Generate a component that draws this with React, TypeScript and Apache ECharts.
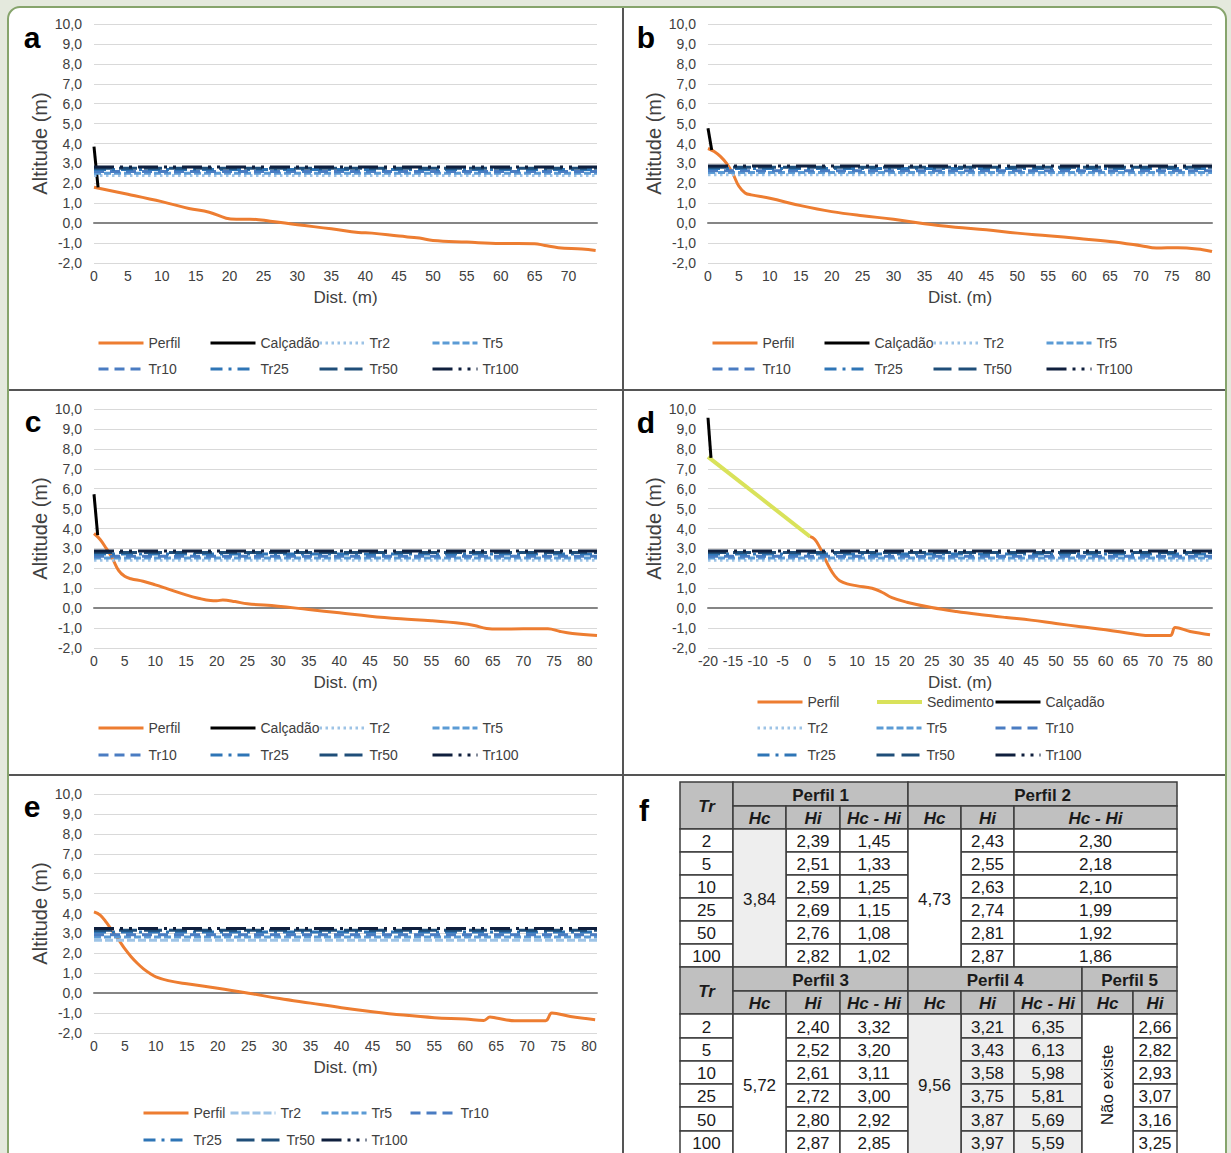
import React, { useEffect, useRef } from "react";
import * as echarts from "echarts";

const FONT = "'Liberation Sans', Arial, Helvetica, sans-serif";
const TEXT_COLOR = "#404040";

// ---------------- data ----------------
const TR_NAMES = ["Tr2", "Tr5", "Tr10", "Tr25", "Tr50", "Tr100"];
const TR_PERIODS = [2, 5, 10, 25, 50, 100];
const Y_MIN = -2;
const Y_MAX = 10;

// table values (Hc, Hi, Hc - Hi)
const HC_P1 = 3.84;
const HI_P1 = [2.39, 2.51, 2.59, 2.69, 2.76, 2.82];
const HCHI_P1 = [1.45, 1.33, 1.25, 1.15, 1.08, 1.02];
const HC_P2 = 4.73;
const HI_P2 = [2.43, 2.55, 2.63, 2.74, 2.81, 2.87];
const HCHI_P2 = [2.3, 2.18, 2.1, 1.99, 1.92, 1.86];
const HC_P3 = 5.72;
const HI_P3 = [2.4, 2.52, 2.61, 2.72, 2.8, 2.87];
const HCHI_P3 = [3.32, 3.2, 3.11, 3.0, 2.92, 2.85];
const HC_P4 = 9.56;
const HI_P4 = [3.21, 3.43, 3.58, 3.75, 3.87, 3.97];
const HCHI_P4 = [6.35, 6.13, 5.98, 5.81, 5.69, 5.59];
const HI_P5 = [2.66, 2.82, 2.93, 3.07, 3.16, 3.25];
// Tr levels as drawn in panel d
const TR_LEVELS_D = [2.4, 2.52, 2.61, 2.72, 2.8, 2.87];

// profiles [dist, altitude]
const PERFIL_A = [[0, 1.8], [5, 1.45], [10, 1.08], [14, 0.74], [17, 0.55], [19.5, 0.25], [21, 0.2], [23, 0.2], [26, 0.1], [30, -0.08], [35, -0.28], [39, -0.47], [41, -0.5], [45, -0.65], [48, -0.75], [50, -0.87], [55, -0.95], [60, -1.02], [65, -1.03], [66.5, -1.12], [68.5, -1.23], [72, -1.3], [74, -1.37]];
const PERFIL_B = [[0, 3.75], [1, 3.6], [2, 3.35], [3, 3.0], [4, 2.5], [5, 1.85], [6, 1.52], [7, 1.42], [10, 1.25], [15, 0.88], [20, 0.58], [25, 0.37], [30, 0.2], [35, -0.03], [40, -0.2], [45, -0.33], [50, -0.5], [55, -0.63], [60, -0.77], [65, -0.92], [70, -1.13], [72.5, -1.25], [76, -1.23], [80, -1.33], [81.5, -1.42]];
const PERFIL_C = [[0, 3.75], [1, 3.45], [2, 3.0], [3, 2.5], [4, 1.9], [5, 1.6], [6, 1.48], [8, 1.35], [10, 1.17], [12, 0.97], [15, 0.67], [17, 0.5], [19, 0.38], [20, 0.37], [21, 0.41], [23, 0.33], [25, 0.22], [30, 0.1], [35, -0.07], [40, -0.23], [45, -0.4], [50, -0.53], [55, -0.63], [60, -0.77], [62, -0.87], [64, -1.02], [66, -1.05], [70, -1.03], [74, -1.03], [76, -1.17], [78, -1.27], [82, -1.37]];
const PERFIL_D = [[0.5, 3.6], [1.5, 3.45], [2.5, 3.05], [3.5, 2.5], [4.5, 2.0], [5.5, 1.62], [6.5, 1.38], [8, 1.22], [10, 1.12], [13, 1.0], [15, 0.8], [17, 0.53], [20, 0.3], [25, 0.03], [30, -0.17], [35, -0.33], [40, -0.47], [45, -0.6], [50, -0.77], [55, -0.93], [60, -1.08], [65, -1.27], [68, -1.37], [73, -1.37], [74, -0.97], [77, -1.17], [81, -1.33]];
const SEDIMENTO_D = [[-20, 7.6], [0.5, 3.6]];
const PERFIL_E = [[0, 4.08], [1, 3.92], [2, 3.55], [3, 3.1], [4, 2.67], [5, 2.22], [6, 1.83], [7, 1.5], [8, 1.22], [9, 1.0], [10, 0.82], [12, 0.63], [15, 0.47], [20, 0.25], [25, 0], [30, -0.27], [35, -0.5], [40, -0.73], [45, -0.93], [50, -1.1], [55, -1.23], [60, -1.3], [63, -1.37], [64, -1.2], [65, -1.25], [68, -1.38], [73, -1.38], [74, -1.0], [77, -1.17], [81, -1.33]];
const CALCADAO_A = [[0, 3.84], [0.6, 1.8]];
const CALCADAO_B = [[0, 4.76], [0.6, 3.67]];
const CALCADAO_C = [[0, 5.72], [0.6, 3.67]];
const CALCADAO_D = [[-20, 9.56], [-19.4, 7.55]];

// ---------------- styles ----------------
const STYLE: Record<string, any> = {
  Perfil: { color: "#ed7d31", width: 3, type: "solid" },
  Sedimento: { color: "#d9e25a", width: 4, type: "solid" },
  "Calçadão": { color: "#000000", width: 3, type: "solid" },
  Tr2: { color: "#9dc3e6", width: 3, type: [2.5, 3.5] },
  Tr5: { color: "#5b9bd5", width: 3, type: [7, 3] },
  Tr10: { color: "#4a7cc2", width: 3, type: [10, 6] },
  Tr25: { color: "#2e75b6", width: 3, type: [12, 6, 3, 6] },
  Tr50: { color: "#1f4e79", width: 3, type: [18, 7] },
  Tr100: { color: "#0f1f3d", width: 3, type: [20, 6, 3, 6, 3, 6] },
};
const STYLE_TR2_DASHED = { color: "#9dc3e6", width: 3, type: [8, 3] };

// legend layouts: dx relative to plot left, row index
const LEGEND_STD = [
  { name: "Perfil", dx: 3, row: 0 }, { name: "Calçadão", dx: 115, row: 0 }, { name: "Tr2", dx: 224, row: 0 }, { name: "Tr5", dx: 337, row: 0 },
  { name: "Tr10", dx: 3, row: 1 }, { name: "Tr25", dx: 115, row: 1 }, { name: "Tr50", dx: 224, row: 1 }, { name: "Tr100", dx: 337, row: 1 },
];
const LEGEND_D = [
  { name: "Perfil", dx: 48, row: 0 }, { name: "Sedimento", dx: 167, row: 0 }, { name: "Calçadão", dx: 286, row: 0 },
  { name: "Tr2", dx: 48, row: 1 }, { name: "Tr5", dx: 167, row: 1 }, { name: "Tr10", dx: 286, row: 1 },
  { name: "Tr25", dx: 48, row: 2 }, { name: "Tr50", dx: 167, row: 2 }, { name: "Tr100", dx: 286, row: 2 },
];
const LEGEND_E = [
  { name: "Perfil", dx: 48, row: 0 }, { name: "Tr2", dx: 135, row: 0 }, { name: "Tr5", dx: 226, row: 0 }, { name: "Tr10", dx: 315, row: 0 },
  { name: "Tr25", dx: 48, row: 1 }, { name: "Tr50", dx: 141, row: 1 }, { name: "Tr100", dx: 226, row: 1 },
];

const PANELS = [
  { letter: "a", lx: 32, ly: 37, left: 94, top: 24, width: 503, xMin: 0, xMax: 74.2, perfil: PERFIL_A, sedimento: null, calcadao: CALCADAO_A, tr: HI_P1, tr2Dashed: false, legend: LEGEND_STD, rows: [343, 369] },
  { letter: "b", lx: 646, ly: 37, left: 708, top: 24, width: 504, xMin: 0, xMax: 81.5, perfil: PERFIL_B, sedimento: null, calcadao: CALCADAO_B, tr: HI_P2, tr2Dashed: false, legend: LEGEND_STD, rows: [343, 369] },
  { letter: "c", lx: 33, ly: 421, left: 94, top: 409, width: 503, xMin: 0, xMax: 82, perfil: PERFIL_C, sedimento: null, calcadao: CALCADAO_C, tr: HI_P3, tr2Dashed: false, legend: LEGEND_STD, rows: [728, 755] },
  { letter: "d", lx: 646, ly: 422, left: 708, top: 409, width: 504, xMin: -20, xMax: 81.4, perfil: PERFIL_D, sedimento: SEDIMENTO_D, calcadao: CALCADAO_D, tr: TR_LEVELS_D, tr2Dashed: false, legend: LEGEND_D, rows: [702, 728, 755] },
  { letter: "e", lx: 32, ly: 806, left: 94, top: 794, width: 503, xMin: 0, xMax: 81.3, perfil: PERFIL_E, sedimento: null, calcadao: null, tr: HI_P5, tr2Dashed: true, legend: LEGEND_E, rows: [1113, 1140] },
];
const PLOT_HEIGHT = 239;

// table geometry
const TABLE_COLS = [680, 733, 786, 840, 908, 961, 1014, 1082, 1133, 1177];
const TABLE_ROWS = [782, 806, 829, 852, 875, 898, 921, 944, 967, 991, 1014, 1038, 1061, 1084, 1107, 1131, 1154];

const fmt = (v: number) => v.toFixed(2).replace(".", ",");

function lineStyleOf(s: any) {
  return { color: s.color, width: s.width, type: s.type, cap: "butt" };
}

function buildOption() {
  const grid: any[] = [];
  const xAxis: any[] = [];
  const yAxis: any[] = [];
  const series: any[] = [];
  const legend: any[] = [];
  const graphic: any[] = [];

  // panel background & frame
  graphic.push({ type: "rect", z: -100, shape: { x: 8, y: 7, width: 1218, height: 1180, r: 12 }, style: { fill: "#ffffff", stroke: "#86a46c", lineWidth: 2 } });
  graphic.push({ type: "line", z: 100, shape: { x1: 623, y1: 8, x2: 623, y2: 1153 }, style: { stroke: "#555555", lineWidth: 2 } });
  graphic.push({ type: "line", z: 100, shape: { x1: 9, y1: 390, x2: 1225, y2: 390 }, style: { stroke: "#555555", lineWidth: 2 } });
  graphic.push({ type: "line", z: 100, shape: { x1: 9, y1: 775, x2: 1225, y2: 775 }, style: { stroke: "#555555", lineWidth: 2 } });

  PANELS.forEach((p, i) => {
    grid.push({ left: p.left, top: p.top, width: p.width, height: PLOT_HEIGHT, containLabel: false });
    xAxis.push({
      type: "value", gridIndex: i, min: p.xMin, max: p.xMax, interval: 5,
      name: "Dist. (m)", nameLocation: "middle", nameGap: 26,
      nameTextStyle: { fontFamily: FONT, fontSize: 17, color: TEXT_COLOR },
      axisLine: { show: false, onZero: false }, axisTick: { show: false }, splitLine: { show: false },
      axisLabel: {
        fontFamily: FONT, fontSize: 14, color: TEXT_COLOR, margin: 6, showMaxLabel: true,
        formatter: (v: number) => (Math.abs(v % 5) < 1e-6 ? String(v) : ""),
      },
    });
    // zero line (Excel category axis crossing at 0)
    xAxis.push({
      type: "value", gridIndex: i, min: p.xMin, max: p.xMax, position: "bottom",
      axisLine: { show: true, onZero: true, lineStyle: { color: "#858585", width: 2 } },
      axisTick: { show: false }, axisLabel: { show: false }, splitLine: { show: false },
    });
    yAxis.push({
      type: "value", gridIndex: i, min: Y_MIN, max: Y_MAX, interval: 1,
      name: "Altitude (m)", nameLocation: "middle", nameGap: 44, nameRotate: 90,
      nameTextStyle: { fontFamily: FONT, fontSize: 20, color: TEXT_COLOR },
      axisLine: { show: false }, axisTick: { show: false },
      splitLine: { show: true, lineStyle: { color: "#d9d9d9", width: 1 } },
      axisLabel: { fontFamily: FONT, fontSize: 14, color: TEXT_COLOR, margin: 12, formatter: (v: number) => v.toFixed(1).replace(".", ",") },
    });

    const xi = i * 2;
    const base = { type: "line", xAxisIndex: xi, yAxisIndex: i, symbol: "none", silent: true, animation: false };
    series.push({ ...base, name: "Perfil", data: p.perfil, smooth: 0.4, lineStyle: { ...lineStyleOf(STYLE.Perfil), join: "round" }, itemStyle: { color: STYLE.Perfil.color }, z: 3 });
    if (p.sedimento) series.push({ ...base, name: "Sedimento", data: p.sedimento, lineStyle: lineStyleOf(STYLE.Sedimento), itemStyle: { color: STYLE.Sedimento.color }, z: 3 });
    if (p.calcadao) series.push({ ...base, name: "Calçadão", data: p.calcadao, lineStyle: lineStyleOf(STYLE["Calçadão"]), itemStyle: { color: "#000" }, z: 4 });
    TR_NAMES.forEach((n, j) => {
      const st = n === "Tr2" && p.tr2Dashed ? STYLE_TR2_DASHED : STYLE[n];
      series.push({ ...base, name: n, data: [[p.xMin, p.tr[j]], [p.xMax, p.tr[j]]], lineStyle: lineStyleOf(st), itemStyle: { color: st.color }, z: 5 });
    });

    p.legend.forEach((it) => {
      const st = it.name === "Tr2" && p.tr2Dashed ? STYLE_TR2_DASHED : STYLE[it.name];
      legend.push({
        left: p.left + it.dx, top: p.rows[it.row] - 7, padding: 0, itemWidth: 45, itemHeight: 14, selectedMode: false,
        textStyle: { fontFamily: FONT, fontSize: 14, color: TEXT_COLOR },
        data: [{ name: it.name, lineStyle: lineStyleOf(st), itemStyle: { opacity: 0 } }],
      });
    });

    graphic.push({ type: "text", z: 50, x: p.lx, y: p.ly, style: { text: p.letter, fontFamily: FONT, fontSize: 30, fontWeight: "bold", fill: "#000", align: "center", verticalAlign: "middle" } });
  });

  // ---------- table f ----------
  graphic.push({ type: "text", z: 50, x: 644, y: 810, style: { text: "f", fontFamily: FONT, fontSize: 30, fontWeight: "bold", fill: "#000", align: "center", verticalAlign: "middle" } });
  const HEAD = "#c0c0c0";
  const LIGHT = "#eeeeee";
  const cell = (c0: number, c1: number, r0: number, r1: number, text: string, o: any = {}) => {
    const x0 = TABLE_COLS[c0], x1 = TABLE_COLS[c1], y0 = TABLE_ROWS[r0], y1 = TABLE_ROWS[r1];
    graphic.push({ type: "rect", z: 10, shape: { x: x0, y: y0, width: x1 - x0, height: y1 - y0 }, style: { fill: o.fill || "#ffffff", stroke: "#3c3c3c", lineWidth: 1.5 } });
    graphic.push({
      type: "text", z: 11, x: (x0 + x1) / 2, y: (y0 + y1) / 2 + 1, rotation: o.rotate ? Math.PI / 2 : 0,
      style: { text, fontFamily: FONT, fontSize: 17, fontWeight: o.bold ? "bold" : "normal", fontStyle: o.italic ? "italic" : "normal", fill: "#1a1a1a", align: "center", verticalAlign: "middle" },
    });
  };
  const H = { fill: HEAD, bold: true };
  const HI = { fill: HEAD, bold: true, italic: true };

  // upper table
  cell(0, 1, 0, 2, "Tr", HI);
  cell(1, 4, 0, 1, "Perfil 1", H);
  cell(4, 9, 0, 1, "Perfil 2", H);
  [[1, 2, "Hc"], [2, 3, "Hi"], [3, 4, "Hc - Hi"], [4, 5, "Hc"], [5, 6, "Hi"], [6, 9, "Hc - Hi"]].forEach(([a, b, t]) => cell(a as number, b as number, 1, 2, t as string, HI));
  TR_PERIODS.forEach((tr, k) => {
    const r = 2 + k;
    cell(0, 1, r, r + 1, String(tr));
    cell(2, 3, r, r + 1, fmt(HI_P1[k]));
    cell(3, 4, r, r + 1, fmt(HCHI_P1[k]));
    cell(5, 6, r, r + 1, fmt(HI_P2[k]));
    cell(6, 9, r, r + 1, fmt(HCHI_P2[k]));
  });
  cell(1, 2, 2, 8, fmt(HC_P1), { fill: LIGHT });
  cell(4, 5, 2, 8, fmt(HC_P2));

  // lower table
  cell(0, 1, 8, 10, "Tr", HI);
  cell(1, 4, 8, 9, "Perfil 3", H);
  cell(4, 7, 8, 9, "Perfil 4", H);
  cell(7, 9, 8, 9, "Perfil 5", H);
  [[1, 2, "Hc"], [2, 3, "Hi"], [3, 4, "Hc - Hi"], [4, 5, "Hc"], [5, 6, "Hi"], [6, 7, "Hc - Hi"], [7, 8, "Hc"], [8, 9, "Hi"]].forEach(([a, b, t]) => cell(a as number, b as number, 9, 10, t as string, HI));
  TR_PERIODS.forEach((tr, k) => {
    const r = 10 + k;
    cell(0, 1, r, r + 1, String(tr));
    cell(2, 3, r, r + 1, fmt(HI_P3[k]));
    cell(3, 4, r, r + 1, fmt(HCHI_P3[k]));
    cell(5, 6, r, r + 1, fmt(HI_P4[k]), { fill: LIGHT });
    cell(6, 7, r, r + 1, fmt(HCHI_P4[k]), { fill: LIGHT });
    cell(8, 9, r, r + 1, fmt(HI_P5[k]));
  });
  cell(1, 2, 10, 16, fmt(HC_P3));
  cell(4, 5, 10, 16, fmt(HC_P4), { fill: LIGHT });
  cell(7, 8, 10, 16, "Não existe", { rotate: true });

  return {
    animation: false,
    backgroundColor: "#e4e9dd",
    textStyle: { fontFamily: FONT },
    grid, xAxis, yAxis, series, legend, graphic,
  };
}

export default function App() {
  const ref = useRef<HTMLDivElement>(null);
  useEffect(() => {
    const chart = echarts.init(ref.current as HTMLDivElement, null, { renderer: "svg", width: 1231, height: 1153 });
    chart.setOption(buildOption() as any);
    return () => chart.dispose();
  }, []);
  return <div ref={ref} style={{ position: "absolute", left: 0, top: 0, width: 1231, height: 1153 }} />;
}
